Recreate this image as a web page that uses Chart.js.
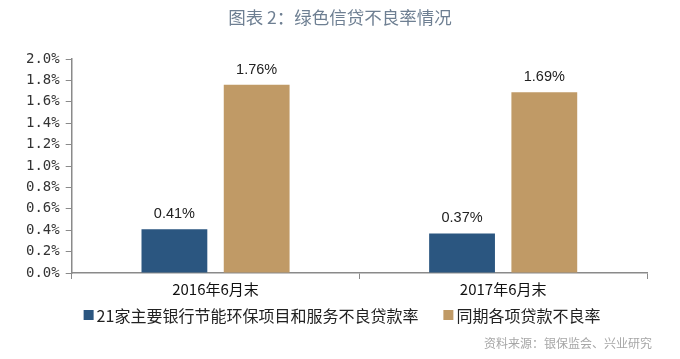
<!DOCTYPE html>
<html>
<head>
<meta charset="utf-8">
<script src="https://cdn.jsdelivr.net/npm/chart.js@4.4.1/dist/chart.umd.min.js"></script>
<style>
  html, body { margin: 0; padding: 0; background: #ffffff; }
  #wrap { width: 680px; height: 359px; position: relative; }
</style>
</head>
<body>
<div id="wrap"><canvas id="c"></canvas></div>
<script>
const categories = ['2016年6月末', '2017年6月末'];
const seriesNames = ['21家主要银行节能环保项目和服务不良贷款率', '同期各项贷款不良率'];
const greenNPL = [0.41, 0.37];
const allNPL = [1.76, 1.69];
const yTicks = [0, 0.2, 0.4, 0.6, 0.8, 1.0, 1.2, 1.4, 1.6, 1.8, 2.0];
const titleText = '图表 2：绿色信贷不良率情况';
const sourceText = '资料来源：银保监会、兴业研究';

const CJK = '"Noto Sans CJK SC", "Noto Sans", sans-serif';

const valueLabels = {
  id: 'valueLabels',
  afterDatasetsDraw(chart) {
    const ctx = chart.ctx;
    ctx.save();
    ctx.font = '14.5px "Liberation Sans", "Open Sans", sans-serif';
    ctx.fillStyle = '#222222';
    ctx.textAlign = 'center';
    ctx.textBaseline = 'middle';
    chart.data.datasets.forEach((ds, i) => {
      const meta = chart.getDatasetMeta(i);
      meta.data.forEach((bar, j) => {
        ctx.fillText(ds.data[j].toFixed(2) + '%', bar.x, bar.y - 15);
      });
    });
    ctx.restore();
  }
};

const frameTexts = {
  id: 'frameTexts',
  afterDraw(chart) {
    const ctx = chart.ctx;
    const W = chart.width;
    ctx.save();
    // title
    ctx.font = 'normal 17.5px ' + CJK;
    ctx.fillStyle = '#6e7f92';
    ctx.textAlign = 'center';
    ctx.textBaseline = 'middle';
    ctx.fillText(titleText, W / 2, 17);
    // legend
    ctx.font = '16px ' + CJK;
    const box = 10, gapBox = 3, gapItem = 25;
    const items = chart.data.datasets.map(ds => ({
      text: ds.label, color: ds.backgroundColor,
      w: box + gapBox + ctx.measureText(ds.label).width
    }));
    const total = items.reduce((s, it) => s + it.w, 0) + gapItem * (items.length - 1);
    let x = W / 2 - total / 2 + 2;
    const ly = 315;
    ctx.textAlign = 'left';
    items.forEach(it => {
      ctx.fillStyle = it.color;
      ctx.fillRect(x, ly - box / 2, box, box);
      ctx.fillStyle = '#222222';
      ctx.fillText(it.text, x + box + gapBox, ly + 1);
      x += it.w + gapItem;
    });
    // source
    ctx.font = '12px ' + CJK;
    ctx.fillStyle = '#a6a6a6';
    ctx.textAlign = 'right';
    ctx.fillText(sourceText, 652, 343);
    ctx.restore();
  }
};

new Chart(document.getElementById('c'), {
  type: 'bar',
  data: {
    labels: categories,
    datasets: [
      { label: seriesNames[0], data: greenNPL, backgroundColor: '#2b5680',
        categoryPercentage: 0.572, barPercentage: 0.8 },
      { label: seriesNames[1], data: allNPL, backgroundColor: '#c09a66',
        categoryPercentage: 0.572, barPercentage: 0.8 }
    ]
  },
  options: {
    responsive: true,
    maintainAspectRatio: false,
    animation: false,
    layout: { padding: { left: 20, right: 33, top: 59, bottom: 60 } },
    plugins: {
      title: { display: false },
      legend: { display: false },
      tooltip: { enabled: false }
    },
    scales: {
      x: {
        offset: true,
        grid: { drawOnChartArea: false, drawTicks: true, tickLength: 6, color: '#8a8a8a', offset: true },
        border: { color: '#8a8a8a', width: 1.5 },
        ticks: { color: '#111111', font: { family: CJK, size: 15 }, padding: 1 }
      },
      y: {
        min: 0, max: 2,
        afterBuildTicks(axis) { axis.ticks = yTicks.map(v => ({ value: v })); },
        grid: { drawOnChartArea: false, drawTicks: true, tickLength: 6, color: '#8a8a8a' },
        border: { color: '#8a8a8a', width: 1.5 },
        ticks: {
          color: '#333333', font: { family: '"DejaVu Sans Mono", monospace', size: 14 }, padding: 6,
          callback: v => v.toFixed(1) + '%'
        }
      }
    }
  },
  plugins: [valueLabels, frameTexts]
});
</script>
</body>
</html>
